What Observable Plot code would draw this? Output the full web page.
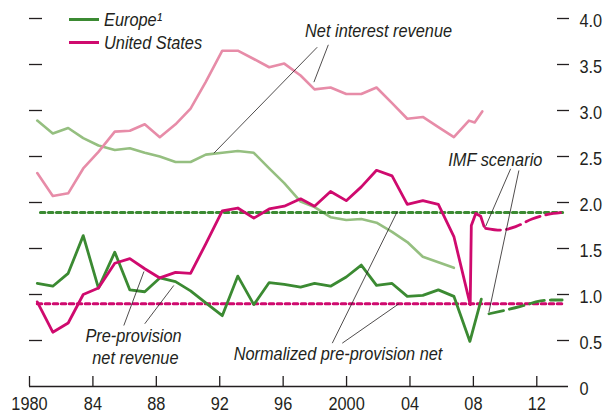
<!DOCTYPE html>
<html><head><meta charset="utf-8">
<script src="https://cdn.jsdelivr.net/npm/d3@7"></script>
<script src="https://cdn.jsdelivr.net/npm/@observablehq/plot@0.6"></script>
<style>
body{margin:0;background:#fff;}
#wrap{position:relative;width:607px;height:413px;font-family:"Liberation Sans",Arial,sans-serif;color:#231f20;}
#legend{position:absolute;left:69px;top:8px;font-style:italic;font-size:19px;line-height:23px;}
.row{display:flex;align-items:center;height:23px;}
.sw{width:30px;height:3px;margin-right:5px;}
.lt{display:inline-block;transform:scaleX(0.86);transform-origin:0 50%;white-space:nowrap;}
</style></head><body>
<div id="wrap"><div id="chart"></div><div id="legend"></div></div>
<script>
// ---- data ----
const annualTime = [1980.49,1981.47,1982.44,1983.39,1984.35,1985.38,1986.33,1987.27,1988.22,1989.21,1990.16,1991.12,1992.16,1993.14,1994.15,1995.12,1996.07,1997.10,1997.98,1998.99,1999.98,2000.93,2001.89,2002.87,2003.83,2004.81,2005.79,2006.77];

const usNetInterest = [2.32,2.07,2.10,2.37,2.55,2.77,2.78,2.85,2.71,2.85,3.02,3.31,3.65,3.65,3.56,3.47,3.51,3.38,3.23,3.25,3.18,3.18,3.25,3.08,2.91,2.93,2.82,2.71];
const usNetInterestTailTime = [2007.72,2008.08,2008.56];
const usNetInterestTail = [2.89,2.87,2.99];

const euNetInterest = [2.89,2.75,2.81,2.70,2.62,2.57,2.59,2.54,2.50,2.44,2.44,2.52,2.54,2.56,2.54,2.37,2.21,2.01,1.95,1.84,1.81,1.82,1.78,1.68,1.57,1.41,1.35,1.29];

const usPPNR = [0.92,0.59,0.69,1.00,1.07,1.34,1.39,1.28,1.18,1.24,1.23,1.55,1.91,1.94,1.83,1.93,1.96,2.04,1.96,2.12,2.02,2.17,2.35,2.29,1.98,2.02,1.98,1.63];
const usPPNRTailTime = [2007.80,2007.87,2008.15,2008.46,2008.67];
const usPPNRTail = [0.89,1.75,1.88,1.85,1.74];

const euPPNR = [1.12,1.09,1.23,1.64,1.07,1.46,1.05,1.03,1.18,1.14,1.04,0.91,0.77,1.20,0.89,1.13,1.11,1.08,1.12,1.09,1.19,1.32,1.10,1.12,0.98,0.99,1.05,0.98];
const euPPNRTailTime = [2007.78,2008.50];
const euPPNRTail = [0.49,0.95];

const usScenarioTime = [2008.77,2009.72,2010.70,2011.70,2012.70,2013.55];
const usScenario = [1.72,1.70,1.74,1.82,1.87,1.89];
const euScenarioTime = [2008.98,2010.98,2012.24,2012.90,2013.60];
const euScenario = [0.79,0.87,0.93,0.94,0.94];

const usNormalizedTime = [1980.49,2013.63];
const usNormalized = [0.90,0.90];
const euNormalizedTime = [1980.69,2013.63];
const euNormalized = [1.89,1.89];

const xTickValues = [1980,1984,1988,1992,1996,2000,2004,2008,2012];
const xTickLabels = ["1980","84","88","92","96","2000","04","08","12"];
const yTickValues = [0,0.5,1,1.5,2,2.5,3,3.5,4];

const legendLabels = ["Europe\u00B9","United States"];

// annotations: text and leader lines (in data units)
const annTexts = [
  {t:2002.02, v:3.797, label:"Net interest revenue", anchor:"middle"},
  {t:2012.35, v:2.40, label:"IMF scenario", anchor:"end"},
  {t:1999.46, v:0.293, label:"Normalized pre-provision net", anchor:"middle"},
  {t:1986.56, v:0.482, label:"Pre-provision", anchor:"middle"},
  {t:1986.68, v:0.245, label:"net revenue", anchor:"middle"}
];
const leaders = [
  [1991.63,2.536,1998.15,3.688],
  [1997.94,3.308,1998.85,3.714],
  [2008.77,1.739,2010.35,2.366],
  [2008.98,0.808,2010.87,2.348],
  [1999.10,0.471,2003.20,1.902],
  [1999.73,0.471,2003.30,0.899],
  [1985.95,0.663,1987.22,1.250],
  [1987.27,0.682,1989.10,1.098]
];

// ---- colours / styles ----
const MAGENTA = "#cf0a6e", DKGREEN = "#3b8a32", LTPINK = "#e78ca8", LTGREEN = "#95bf80", INK = "#231f20";
const FONT = '"Liberation Sans",Arial,sans-serif';
const NARROW = 0.86; // horizontal condensing of the text

const pts = (times, vals) => times.map((t,i)=>({t, v: vals[i]}));
const usNIRdata = pts(annualTime.concat(usNetInterestTailTime), usNetInterest.concat(usNetInterestTail));
const euNIRdata = pts(annualTime, euNetInterest);
const usPPdata = pts(annualTime.concat(usPPNRTailTime), usPPNR.concat(usPPNRTail));
const euPPdata = pts(annualTime.concat(euPPNRTailTime), euPPNR.concat(euPPNRTail));
const usScData = pts(usScenarioTime, usScenario);
const euScData = pts(euScenarioTime, euScenario);
const usNormData = pts(usNormalizedTime, usNormalized);
const euNormData = pts(euNormalizedTime, euNormalized);
const leaderData = leaders.map(([a,b,c,d])=>({x1:a,y1:b,x2:c,y2:d}));

const annText = anchor => Plot.text(annTexts.filter(d => d.anchor === anchor), {
  x: "t", y: "v", text: "label", textAnchor: anchor, lineAnchor: "bottom",
  fontStyle: "italic", fontSize: 19, fill: INK});

const chart = Plot.plot({
  width: 607, height: 413,
  marginLeft: 29, marginRight: 39, marginTop: 18, marginBottom: 27,
  style: {fontFamily: FONT, fontSize: "19px", color: INK, background: "#fff"},
  x: {domain: [1980, 2014], axis: null},
  y: {domain: [0, 4], axis: null},
  marks: [
    // axes
    Plot.axisY({anchor: "left", ticks: yTickValues.slice(1), tickSize: -13, tickFormat: () => "", label: null, stroke: INK, strokeWidth: 1.3}),
    Plot.axisY({anchor: "right", ticks: yTickValues.slice(1), tickSize: -12, tickFormat: () => "", label: null, stroke: INK, strokeWidth: 1.3}),
    Plot.axisY({anchor: "right", ticks: yTickValues, tickSize: 0, tickPadding: 11, label: null,
      tickFormat: d => d === 0 ? "0" : d.toFixed(1), fontSize: 19, fill: INK, dy: 2}),
    Plot.axisX({anchor: "bottom", ticks: xTickValues, tickSize: -10, tickFormat: () => "", label: null, stroke: INK, strokeWidth: 1.3}),
    Plot.axisX({anchor: "bottom", ticks: xTickValues, tickSize: 0, tickPadding: 10, label: null,
      tickFormat: d => xTickLabels[xTickValues.indexOf(d)], fontSize: 19, fill: INK}),
    Plot.ruleY([0], {stroke: INK, strokeWidth: 1.5}),
    // net interest revenue (light)
    Plot.line(euNIRdata, {x: "t", y: "v", stroke: LTGREEN, strokeWidth: 2.6}),
    Plot.line(usNIRdata, {x: "t", y: "v", stroke: LTPINK, strokeWidth: 2.6}),
    // normalized (dotted)
    Plot.line(euNormData, {x: "t", y: "v", stroke: DKGREEN, strokeWidth: 3, strokeDasharray: "4.5,3.5"}),
    Plot.line(usNormData, {x: "t", y: "v", stroke: MAGENTA, strokeWidth: 3, strokeDasharray: "4.5,3.5"}),
    // pre-provision net revenue (solid dark)
    Plot.line(euPPdata, {x: "t", y: "v", stroke: DKGREEN, strokeWidth: 2.8}),
    Plot.line(usPPdata, {x: "t", y: "v", stroke: MAGENTA, strokeWidth: 2.8}),
    // IMF scenario (dashed)
    Plot.line(euScData, {x: "t", y: "v", stroke: DKGREEN, strokeWidth: 2.8, strokeDasharray: "15,6", curve: "monotone-x"}),
    Plot.line(usScData, {x: "t", y: "v", stroke: MAGENTA, strokeWidth: 2.8, strokeDasharray: "15,6", curve: "monotone-x"}),
    // leaders + annotation text
    Plot.link(leaderData, {x1: "x1", y1: "y1", x2: "x2", y2: "y2", stroke: INK, strokeWidth: 0.8}),
    annText("middle"),
    annText("end")
  ]
});
// condense all texts horizontally around their anchor point
chart.querySelectorAll("text").forEach(el => {
  const tr = el.getAttribute("transform");
  if (tr) {
    el.setAttribute("transform", tr + ` scale(${NARROW},1)`);
  } else {
    const x = +el.getAttribute("x") || 0, y = +el.getAttribute("y") || 0;
    el.removeAttribute("x"); el.removeAttribute("y");
    el.setAttribute("transform", `translate(${x},${y}) scale(${NARROW},1)`);
  }
});
document.getElementById("chart").appendChild(chart);

// legend (HTML overlay)
const legendColors = [DKGREEN, MAGENTA];
const leg = document.getElementById("legend");
legendLabels.forEach((lab, i) => {
  const row = document.createElement("div"); row.className = "row";
  const sw = document.createElement("div"); sw.className = "sw"; sw.style.background = legendColors[i];
  const tx = document.createElement("span"); tx.className = "lt"; tx.textContent = lab;
  row.appendChild(sw); row.appendChild(tx); leg.appendChild(row);
});
</script></body></html>
